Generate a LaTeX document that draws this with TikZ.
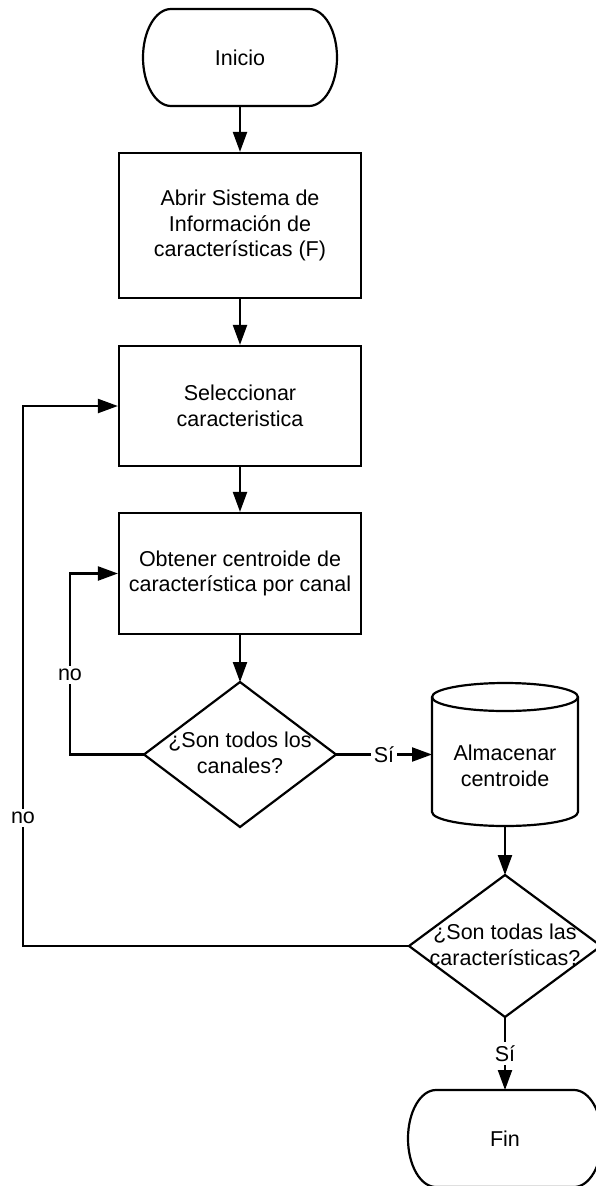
\documentclass[tikz,border=0pt]{standalone}
\usepackage{fontspec}
\setmainfont{Liberation Sans}
\usetikzlibrary{arrows.meta,shapes.geometric}
\newcommand\lblfont{\fontsize{21.5}{25.5}\selectfont}
\newcommand\termshape[1]{%
  \draw[line] ([xshift=28pt]#1.north west) -- ([xshift=-28pt]#1.north east)
    arc[start angle=90,end angle=-90,x radius=28pt,y radius=48.5pt]
    -- ([xshift=28pt]#1.south west)
    arc[start angle=270,end angle=90,x radius=28pt,y radius=48.5pt] -- cycle;}
\begin{document}
\begin{tikzpicture}[x=1pt,y=1pt,
  line/.style={line width=2.2pt, black},
  arr/.style={line, -{Triangle[length=20pt,width=14pt]}},
  box/.style={draw, line width=2.2pt, minimum width=242pt, inner sep=2pt, align=center, font=\lblfont},
  termbox/.style={minimum width=194pt, minimum height=97pt, inner sep=0pt, outer sep=0pt, font=\lblfont},
  dia/.style={diamond, draw, line width=2.2pt, inner sep=0pt, outer sep=0pt},
  cylbox/.style={minimum width=146pt, minimum height=143pt, inner sep=0pt, outer sep=0pt},
  txt/.style={align=center, font=\lblfont, inner sep=0pt},
  lab/.style={fill=white, font=\lblfont, inner sep=3pt}]
\useasboundingbox (0,0) rectangle (596,-1186);
\fill[white] (0,0) rectangle (596,-1186);

\node[termbox] (inicio) at (240,-57.5) {Inicio};
\termshape{inicio}
\node[box, minimum height=145pt] (b1) at (240,-225.5) {Abrir Sistema de\\Información de\\características (F)};
\node[box, minimum height=120pt] (b2) at (240,-406) {Seleccionar\\caracteristica};
\node[box, minimum height=121pt] (b3) at (240,-573.5) {Obtener centroide de\\característica por canal};
\node[dia, minimum width=192pt, minimum height=145pt] (d1) at (240,-754.5) {};
\node[txt] (d1t) at (240,-753) {¿Son todos los\\canales?};

\node[cylbox] (cyl) at (505,-754.5) {};
\draw[line] ([yshift=-14pt]cyl.north west) -- ([yshift=14pt]cyl.south west)
  arc[start angle=180,end angle=360,x radius=73pt,y radius=14pt]
  -- ([yshift=-14pt]cyl.north east);
\draw[line] ([yshift=-14pt]cyl.north) ellipse [x radius=73pt, y radius=14pt];
\node[txt] (cylt) at (505,-766) {Almacenar\\centroide};

\node[dia, minimum width=192pt, minimum height=142pt] (d2) at (505,-946) {};
\node[txt] (d2t) at (505,-945) {¿Son todas las\\características?};

\node[termbox] (fin) at (505,-1138.5) {Fin};
\termshape{fin}

\coordinate (inL) at (70,-754.5);
\coordinate (inT) at (70,-573.5);
\coordinate (outL) at (23,-946);
\coordinate (outT) at (23,-406);

\draw[arr] (inicio.south) -- (b1.north);
\draw[arr] (b1.south) -- (b2.north);
\draw[arr] (b2.south) -- (b3.north);
\draw[arr] (b3.south) -- (d1.north);
\draw[arr] (d1.west) -- (inL) -- node[lab, pos=0.44]{no} (inT) -- (b3.west);
\draw[arr] (d2.west) -- (outL) -- node[lab, pos=0.237]{no} (outT) -- (b2.west);
\draw[arr] (d1.east) -- node[lab]{Sí} (cyl.west);
\draw[arr] (cyl.south) -- (d2.north);
\draw[arr] (d2.south) -- node[lab]{Sí} (fin.north);
\end{tikzpicture}
\end{document}
